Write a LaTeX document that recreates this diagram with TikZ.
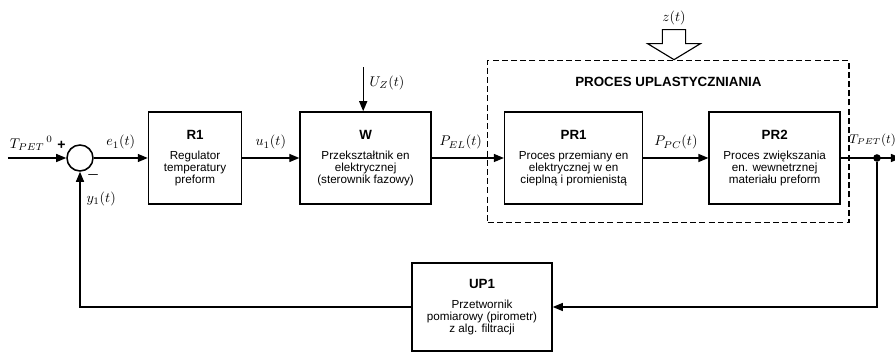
\documentclass[tikz,border=0pt]{standalone}
\usepackage{amsmath}
\usepackage{fontspec}
\setmainfont{Liberation Sans}
\usepackage{tikz}
\usetikzlibrary{arrows.meta,positioning,calc,fit}
\tikzset{
	block/.style={draw, line width=1.1pt, align=center, inner sep=2pt,
		minimum height=23mm, font=\fontsize{8.3}{8.5}\selectfont},
	arrow/.style={-{Triangle[length=2.5mm,width=2mm]}, line width=0.9pt},
	signal/.style={font=\fontsize{10}{12}\selectfont},
	dot/.style={circle, fill, inner sep=0pt, minimum size=1.9mm}
}
\newcommand{\blktitle}[1]{{\fontsize{9.5}{11}\selectfont\bfseries #1}\\[6pt]}

\begin{document}
\begin{tikzpicture}[
	sumpoint/.style={draw, circle, line width=1.1pt, minimum size=6.5mm, inner sep=0pt},
	]
	\useasboundingbox (-20mm,-49.25mm) rectangle (203.75mm,39.5mm);
	
	%% -- Summing point
	\node[sumpoint] (sum) at (0,0) {};
	\node[signal] (plus) at ($(sum)+(-4.6mm,3.2mm)$) {\textbf{+}};
	\node[signal] (minus) at ($(sum)+(3.3mm,-4.3mm)$) {$\boldsymbol{-}$};
	\coordinate (tin) at (-18mm,0);
	
	%% -- Forward path
	\node[block, minimum width=23.25mm, right=13.5mm of sum] (r1)
	{\blktitle{R1}Regulator\\temperatury\\preform};
	
	\node[block, minimum width=32.75mm, right=14.25mm of r1] (w)
	{\blktitle{W}Przekształtnik en\\elektrycznej\\(sterownik fazowy)};
	
	\node[block, minimum width=34.5mm, right=18mm of w] (pr1)
	{\blktitle{PR1}Proces przemiany en\\elektrycznej w en\\cieplną i promienistą};
	
	\node[block, minimum width=32.75mm, right=16.25mm of pr1] (pr2)
	{\blktitle{PR2}Proces zwiększania\\en. wewnetrznej\\materiału preform};
	
	%% -- Measurement block
	\node[block, minimum width=35mm, minimum height=22mm] (up1) at (100.5mm,-37.25mm)
	{\blktitle{UP1}Przetwornik\\pomiarowy (pirometr)\\z alg. filtracji};
	
	%% -- Process frame
	\coordinate (pbl) at ($(pr1.south west)+(-4mm,-4.5mm)$);
	\coordinate (ptr) at ($(pr2.north east)+(2mm,12.75mm)$);
	\node[fit=(pbl)(ptr), draw, inner sep=0pt, line width=0.8pt,
	dash pattern=on 1.5mm off 0.8mm] (proc) {};
	\node[font=\fontsize{9.5}{11}\selectfont\bfseries, below=3.2mm of proc.north] (proctitle)
	{PROCES UPLASTYCZNIANIA};
	
	%% -- Disturbance z(t)
	\coordinate (ztip) at ($(proc.north)+(1.4mm,0)$);
	\draw[line width=0.8pt, fill=white] (ztip) -- ++(-6.6mm,4mm) -- ++(3.7mm,0)
	-- ++(0,3.5mm) -- ++(5.8mm,0) -- ++(0,-3.5mm) -- ++(3.7mm,0) -- cycle;
	\node[signal, above=0pt] (zlabel) at ($(ztip)+(0,7.5mm)$) {$z(t)$};
	
	%% -- Signals
	\draw[arrow] (tin) -- (sum.west)
	node[signal, pos=0.4, above=0.6mm] (tref) {${T_{PET}}^{\,0}$};
	
	\draw[arrow] (sum.east) -- (r1.west)
	node[signal, midway, above=0.8mm] (e1) {$e_1(t)$};
	
	\draw[arrow] (r1.east) -- (w.west)
	node[signal, midway, above=0.8mm] (u1) {$u_1(t)$};
	
	\coordinate (uz) at ($(w.north)+(-0.6mm,11mm)$);
	\draw[arrow] (uz) -- (uz |- w.north)
	node[signal, pos=0.35, right=0.3mm] (uzlabel) {$U_Z(t)$};
	
	\draw[arrow] (w.east) -- (pr1.west)
	node[signal, pos=0.4, above=0.8mm] (pel) {$P_{EL}(t)$};
	
	\draw[arrow] (pr1.east) -- (pr2.west)
	node[signal, midway, above=0.8mm] (ppc) {$P_{PC}(t)$};
	
	%% -- Output and feedback
	\node[dot] (junc) at ($(pr2.east)+(9mm,0)$) {};
	\coordinate (tout) at ($(pr2.east)+(15mm,0)$);
	\draw[arrow] (pr2.east) -- (tout);
	\node[signal, font=\fontsize{9}{11}\selectfont, inner sep=1pt, above=1.5mm of junc,
	xshift=-1.1mm] (tpet) {$T_{PET}(t)$};
	
	\draw[arrow] (junc) |- (up1.east);
	\draw[arrow] (up1.west) -| (sum.south)
	node[signal, pos=0.9, right=0.3mm] (y1) {$y_1(t)$};
	
\end{tikzpicture}
\end{document}
